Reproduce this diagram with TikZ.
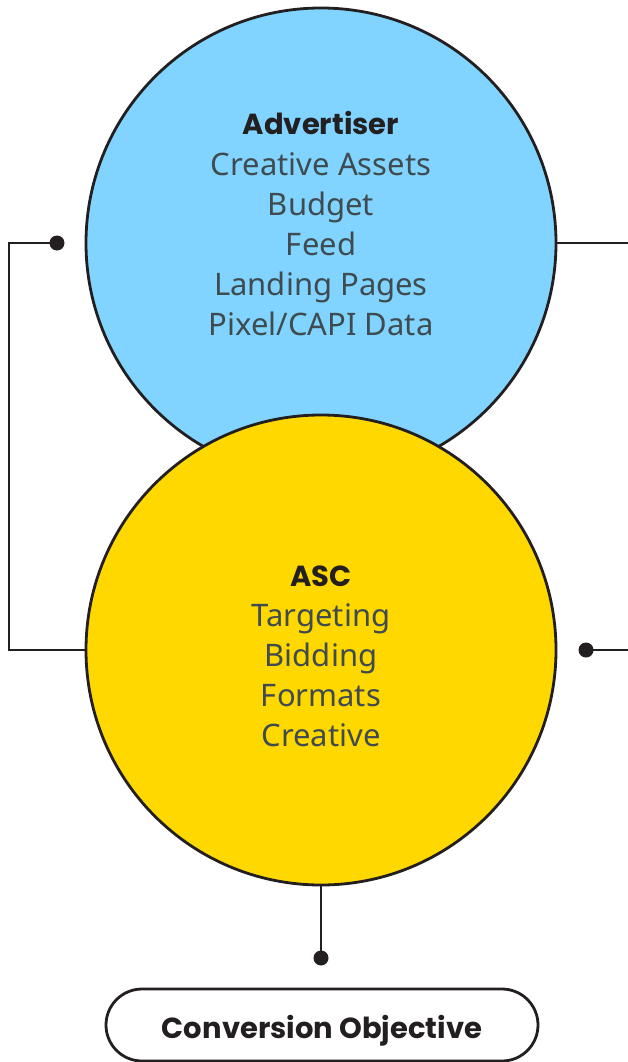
\documentclass[tikz,border=0pt]{standalone}
\usepackage{fontspec}
\setmainfont{Noto Sans}
\newfontfamily\headfont{Poppins}
\definecolor{ink}{HTML}{231F20}
\definecolor{bodytxt}{HTML}{3F4B50}
\definecolor{skyfill}{HTML}{80D4FF}
\definecolor{sunfill}{HTML}{FFD800}
\tikzset{
  bigcircle/.style={circle, draw=ink, line width=2.8pt, minimum size=470pt, inner sep=0pt},
  headtxt/.style={anchor=base, text=ink, font={\headfont\bfseries\fontsize{29}{40}\selectfont}},
  listtxt/.style={anchor=base, text=bodytxt, font={\fontsize{31}{40}\selectfont}},
  wire/.style={draw=ink, line width=2.8pt},
  enddot/.style={circle, fill=ink, inner sep=0pt, minimum size=15pt},
  pill/.style={draw=ink, line width=2.8pt, rounded corners=36pt, fill=white}
}
\begin{document}
\begin{tikzpicture}[x=1pt,y=-1pt]
\useasboundingbox (0,0) rectangle (628,1062);

% the two overlapping circles
\node[bigcircle, fill=skyfill] (adv) at (321,243) {};
\node[bigcircle, fill=sunfill] (asc) at (321,650) {};

% circle labels
\node[headtxt] (advHead) at (321,135) {Advertiser};
\foreach \t [count=\i] in {Creative Assets, Budget, Feed, Landing Pages, Pixel/CAPI Data}
  \node[listtxt] (advL\i) at (321,135+40*\i) {\t};

\node[headtxt] (ascHead) at (321,586) {ASC};
\foreach \t [count=\i] in {Targeting, Bidding, Formats, Creative}
  \node[listtxt] (ascL\i) at (321,586+40*\i) {\t};

% end dots and free ends
\node[enddot] (dotL) at (57,243) {};
\node[enddot] (dotR) at (586,650) {};
\node[enddot] (dotB) at (321,958) {};
\coordinate (edgeTop) at (628,243);
\coordinate (edgeMid) at (628,650);

% connectors
\draw[wire] (asc.west) -- (9,650) -- (9,243) -- (dotL.center);
\draw[wire] (adv.east) -- (edgeTop);
\draw[wire] (dotR.center) -- (edgeMid);
\draw[wire] (asc.south) -- (dotB.center);

% objective box
\draw[pill] (106,989) rectangle (538,1061);
\node[text=ink, font={\headfont\bfseries\fontsize{29}{30}\selectfont}, anchor=base] (goal) at (322,1038) {Conversion Objective};
\end{tikzpicture}
\end{document}
